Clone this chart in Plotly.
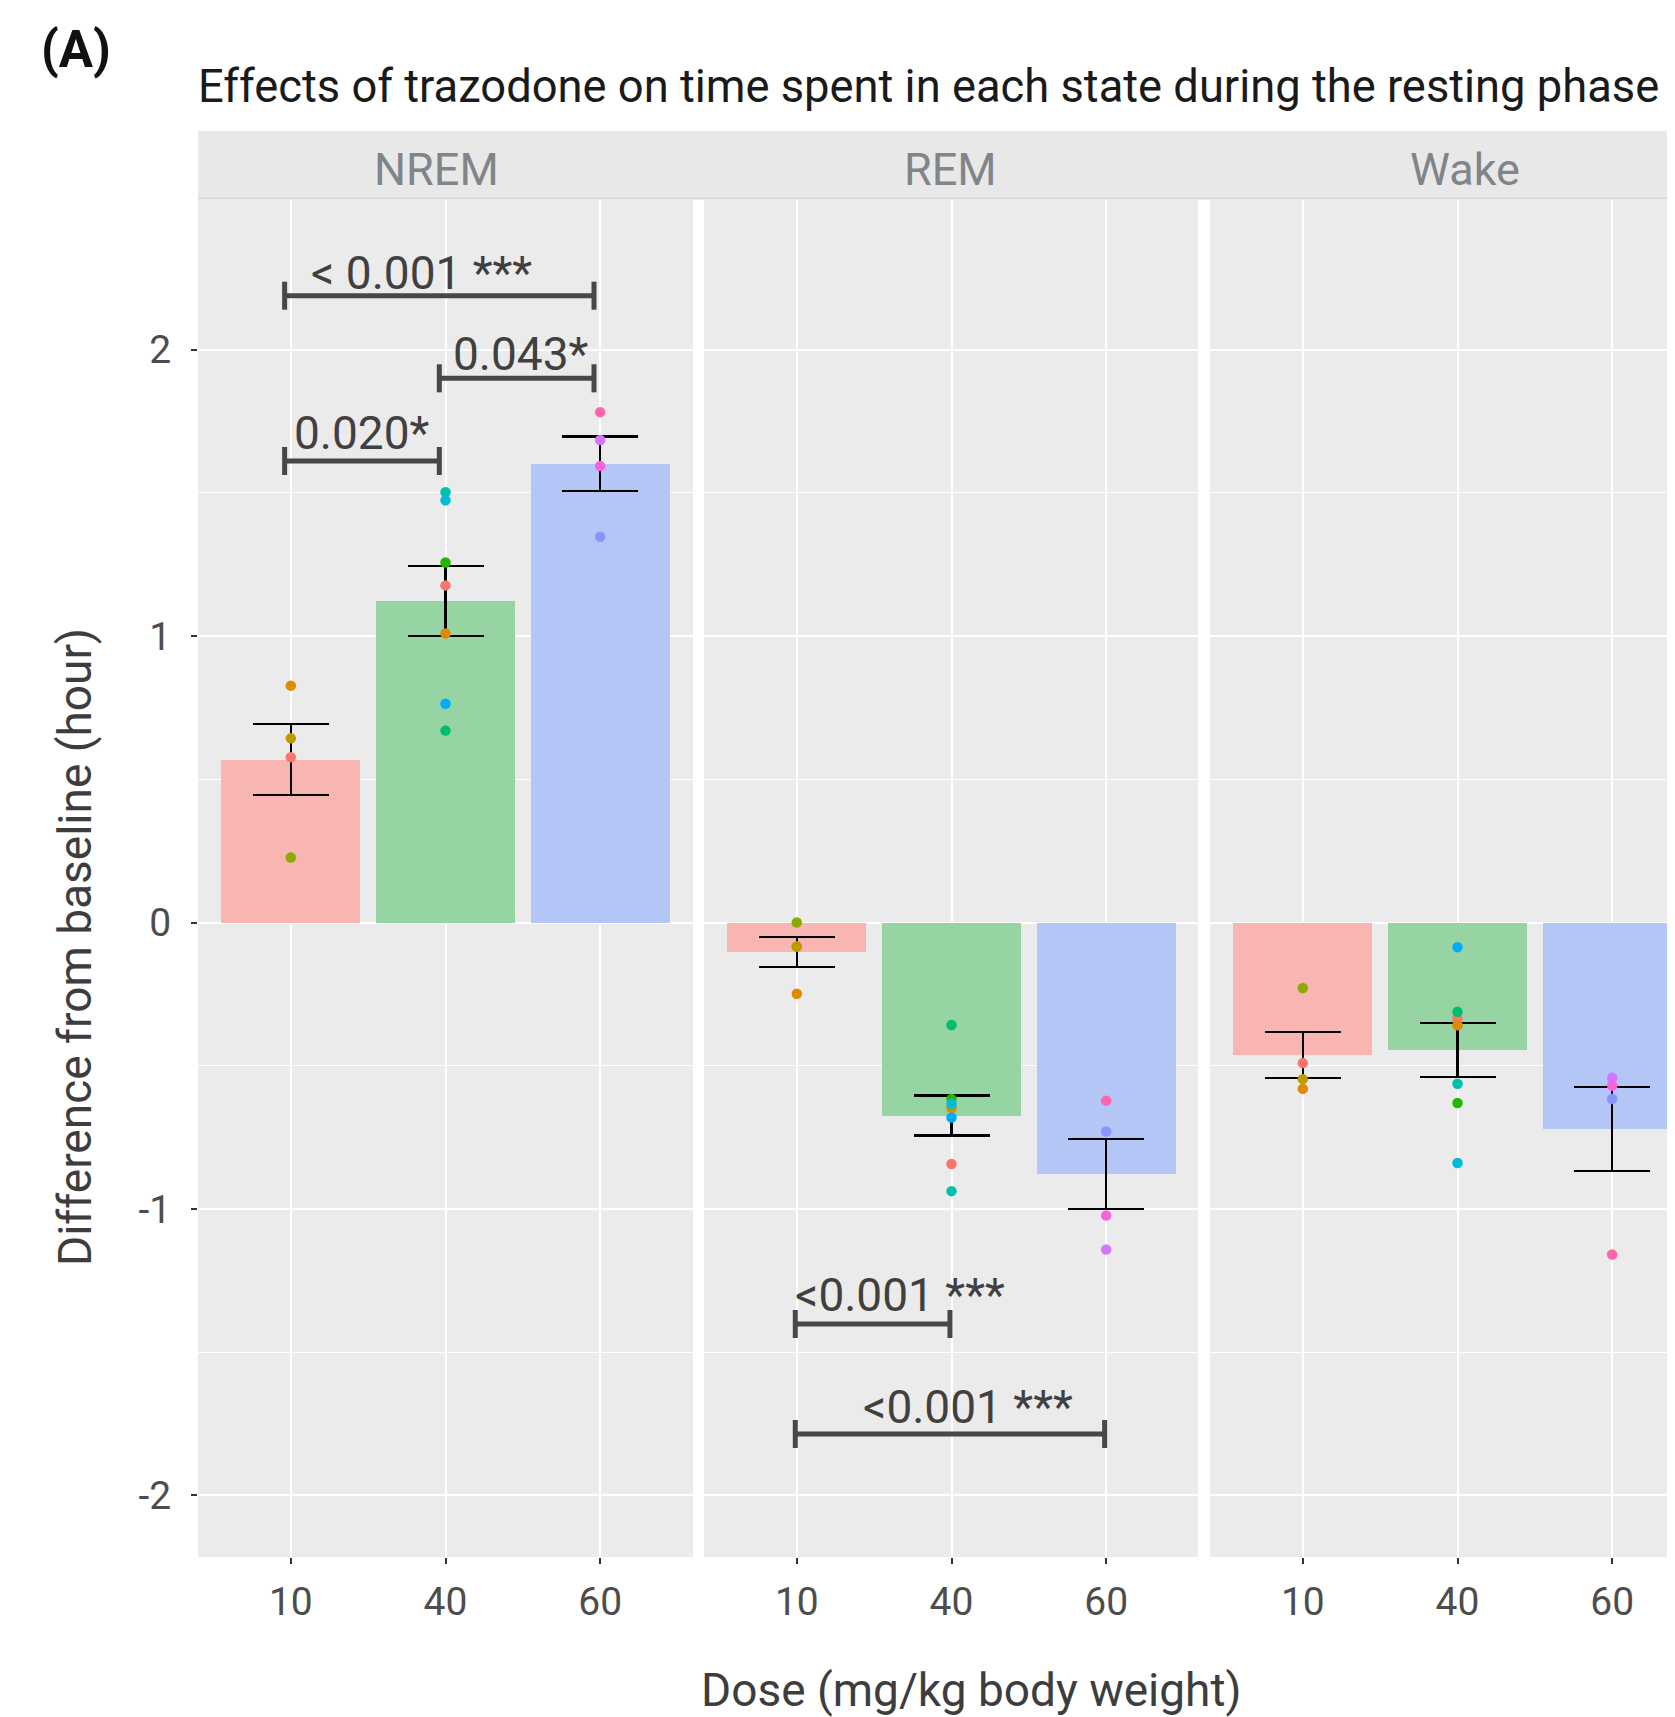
import plotly.graph_objects as go

# ---------------- data ----------------
doses = ["10", "40", "60"]
states = ["NREM", "REM", "Wake"]

# bar heights (group means, hours) and standard errors
nrem_mean = [0.569, 1.122, 1.602]
nrem_se = [0.125, 0.123, 0.095]
rem_mean = [-0.104, -0.674, -0.879]
rem_se = [0.052, 0.070, 0.122]
wake_mean = [-0.462, -0.446, -0.722]
wake_se = [0.080, 0.094, 0.147]

# individual animals per dose group
animals_10 = ["M01", "M02", "M03", "M04"]
animals_40 = ["M01", "M02", "M05", "M06", "M07", "M08", "M09"]
animals_60 = ["M10", "M11", "M12", "M13"]

nrem_10 = [0.577, 0.827, 0.643, 0.227]
nrem_40 = [1.177, 1.009, 1.257, 0.670, 1.502, 1.474, 0.764]
nrem_60 = [1.347, 1.685, 1.594, 1.782]
rem_10 = [-0.084, -0.249, -0.084, 0.0]
rem_40 = [-0.843, -0.648, -0.616, -0.358, -0.938, -0.633, -0.681]
rem_60 = [-0.730, -1.142, -1.023, -0.622]
wake_10 = [-0.491, -0.581, -0.547, -0.229]
wake_40 = [-0.334, -0.359, -0.630, -0.312, -0.563, -0.840, -0.086]
wake_60 = [-0.616, -0.542, -0.570, -1.159]

animal_colors = {
    "M01": "#F8766D", "M02": "#E18A00", "M03": "#BE9C00", "M04": "#8CAB00",
    "M05": "#24B700", "M06": "#00BE70", "M07": "#00C1AB", "M08": "#00BBDA",
    "M09": "#00ACFC", "M10": "#8B93FF", "M11": "#D575FE", "M12": "#F962DD",
    "M13": "#FF65AC",
}

# significance brackets: (state, dose_from, dose_to, label)
bracket_state = ["NREM", "NREM", "NREM", "REM", "REM"]
bracket_from = ["10", "40", "10", "10", "10"]
bracket_to = ["60", "60", "40", "40", "60"]
bracket_label = ["< 0.001 ***", "0.043*", "0.020*", "<0.001 ***", "<0.001 ***"]

# ---------------- styling / layout ----------------
PAGE_W, PAGE_H = 1675, 1717
OFF = 8  # page body margin
W, H = PAGE_W - OFF, PAGE_H - OFF
bar_colors = ["#F8B6B2", "#97D4A3", "#B4C6F6"]
FONT = "Roboto"

def pxx(p):
    return (p - OFF) / W

def pxy(p):
    return 1 - (p - OFF) / H

unit_x = 495 / 3.2
panel_px = [(198, 693), (704, 1198), (1210, 1675)]
x_ranges = []
for (a, b) in panel_px:
    x_ranges.append([-0.6, -0.6 + (b - a) / unit_x])

zero_px, unit_y = 922.5, 286.4
top_px, bot_px = 200, 1557
y_range = [(zero_px - bot_px) / unit_y, (zero_px - top_px) / unit_y]

means = {"NREM": nrem_mean, "REM": rem_mean, "Wake": wake_mean}
ses = {"NREM": nrem_se, "REM": rem_se, "Wake": wake_se}
points = {
    "NREM": [nrem_10, nrem_40, nrem_60],
    "REM": [rem_10, rem_40, rem_60],
    "Wake": [wake_10, wake_40, wake_60],
}
animals = [animals_10, animals_40, animals_60]

fig = go.Figure()
suffix = ["", "2", "3"]
for i, st in enumerate(states):
    xa, ya = "x" + suffix[i], "y" + suffix[i]
    fig.add_trace(go.Bar(
        x=list(range(len(doses))), y=means[st], width=0.9,
        marker=dict(color=bar_colors, line=dict(width=0)),
        error_y=dict(type="data", array=ses[st], visible=True, color="black",
                     thickness=2.2, width=38),
        xaxis=xa, yaxis=ya, showlegend=False, hoverinfo="skip",
    ))
    px_, py_, pc_ = [], [], []
    for d in range(len(doses)):
        for v, a in zip(points[st][d], animals[d]):
            px_.append(d)
            py_.append(v)
            pc_.append(animal_colors[a])
    fig.add_trace(go.Scatter(
        x=px_, y=py_, mode="markers",
        marker=dict(color=pc_, size=10.5, line=dict(width=0)),
        xaxis=xa, yaxis=ya, showlegend=False, hoverinfo="skip",
    ))

tickfont = dict(family=FONT, size=39, color="#4D4D4D")
layout = dict(
    width=W, height=H, margin=dict(l=0, r=0, t=0, b=0),
    paper_bgcolor="white", plot_bgcolor="#EBEBEB",
    font=dict(family=FONT), bargap=0, showlegend=False,
)
for i in range(3):
    layout["xaxis" + suffix[i]] = dict(
        domain=[pxx(panel_px[i][0]), pxx(panel_px[i][1])], range=x_ranges[i],
        tickvals=list(range(len(doses))), ticktext=doses,
        showgrid=True, gridcolor="white", gridwidth=2, zeroline=False, showline=False,
        ticks="outside", ticklen=6, tickwidth=2, tickcolor="#333333",
        tickfont=tickfont, ticklabelstandoff=4,
        anchor="y" + suffix[i],
    )
    ydict = dict(
        domain=[pxy(bot_px), pxy(top_px)], range=y_range,
        tickvals=[-2, -1, 0, 1, 2], ticktext=["-2", "-1", "0", "1", "2"],
        showgrid=True, gridcolor="white", gridwidth=2, zeroline=False, showline=False,
        minor=dict(tickvals=[-1.5, -0.5, 0.5, 1.5], showgrid=True,
                   gridcolor="white", gridwidth=1, ticks=""),
        anchor="x" + suffix[i],
    )
    if i == 0:
        ydict.update(ticks="outside", ticklen=6, tickwidth=2, tickcolor="#333333",
                     tickfont=tickfont, ticklabelstandoff=12)
    else:
        ydict.update(matches="y", showticklabels=False, ticks="")
    layout["yaxis" + suffix[i]] = ydict

shapes = []
annotations = []
# strip
shapes.append(dict(type="rect", xref="paper", yref="paper",
                   x0=pxx(198), x1=1, y0=pxy(199), y1=pxy(131),
                   fillcolor="#E8E8E8", line=dict(width=0), layer="above"))
shapes.append(dict(type="line", xref="paper", yref="paper",
                   x0=pxx(198), x1=1, y0=pxy(198.5), y1=pxy(198.5),
                   line=dict(color="#D8D8D8", width=2)))
strip_centers = [436, 950, 1465]
for st, cx in zip(states, strip_centers):
    annotations.append(dict(text=st, xref="paper", yref="paper", x=pxx(cx), y=pxy(169),
                            xanchor="center", yanchor="middle", showarrow=False,
                            font=dict(family=FONT, size=45, color="#7F8588")))

# brackets
state_axis = {s: suffix[i] for i, s in enumerate(states)}
bracket_off = {"NREM": -0.04, "REM": -0.01}
bracket_y_px = [295.7, 378.3, 461, 1324, 1434]
label_y_px = [272.5, 353.5, 433, 1295.3, 1406.5]
label_x = [0.848, 1.486, 0.462, 0.67, 1.107]
tick_half = 0.049
for k in range(len(bracket_label)):
    s = state_axis[bracket_state[k]]
    off = bracket_off[bracket_state[k]]
    x0 = doses.index(bracket_from[k]) + off
    x1 = doses.index(bracket_to[k]) + off
    yb = (zero_px - bracket_y_px[k]) / unit_y
    ln = dict(color="#474747", width=5)
    shapes.append(dict(type="line", xref="x" + s, yref="y" + s, x0=x0, x1=x1, y0=yb, y1=yb, line=ln))
    for xx in (x0, x1):
        shapes.append(dict(type="line", xref="x" + s, yref="y" + s, x0=xx, x1=xx,
                           y0=yb - tick_half, y1=yb + tick_half, line=ln))
    annotations.append(dict(text=bracket_label[k], xref="x" + s, yref="y" + s,
                            x=label_x[k], y=(zero_px - label_y_px[k]) / unit_y,
                            xanchor="center", yanchor="middle", showarrow=False,
                            font=dict(family=FONT, size=46, color="#404040")))

# titles
annotations.append(dict(text="Effects of trazodone on time spent in each state during the resting phase",
                        xref="paper", yref="paper", x=pxx(196), y=pxy(87),
                        xanchor="left", yanchor="middle", showarrow=False,
                        font=dict(family=FONT, size=45.3, color="#1A1A1A")))
annotations.append(dict(text="<b>(A)</b>", xref="paper", yref="paper", x=pxx(39), y=pxy(49),
                        xanchor="left", yanchor="middle", showarrow=False,
                        font=dict(family=FONT, size=51, color="#111111")))
annotations.append(dict(text="Difference from baseline (hour)", xref="paper", yref="paper",
                        x=pxx(75), y=pxy(947), textangle=-90,
                        xanchor="center", yanchor="middle", showarrow=False,
                        font=dict(family=FONT, size=46, color="#3D3D3D")))
annotations.append(dict(text="Dose (mg/kg body weight)", xref="paper", yref="paper",
                        x=pxx(971), y=pxy(1690),
                        xanchor="center", yanchor="middle", showarrow=False,
                        font=dict(family=FONT, size=46, color="#3D3D3D")))

layout["shapes"] = shapes
layout["annotations"] = annotations
fig.update_layout(**layout)
fig.write_html("out.html")
